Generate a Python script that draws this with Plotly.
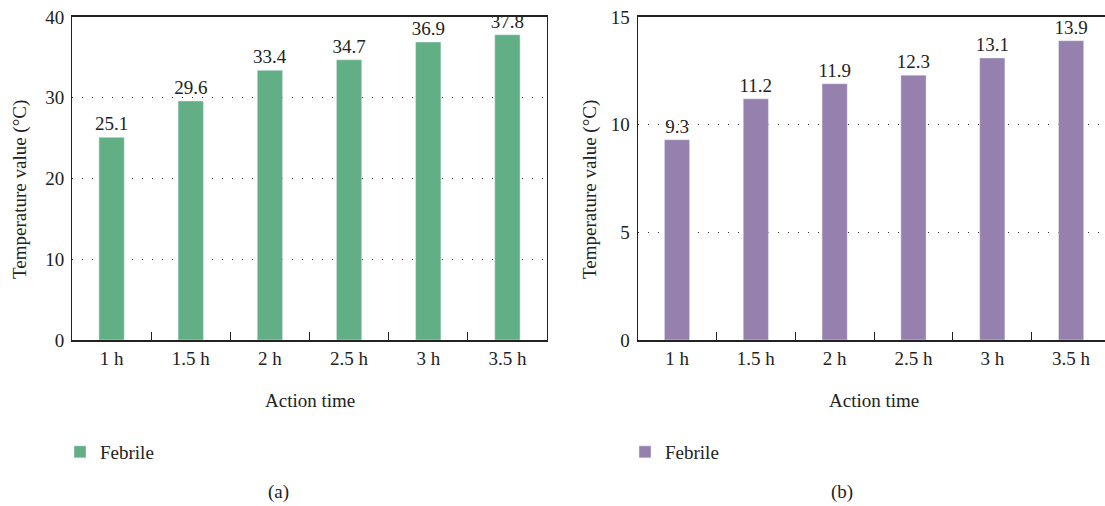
import plotly.graph_objects as go

categories = ["1 h", "1.5 h", "2 h", "2.5 h", "3 h", "3.5 h"]
values_a = [25.1, 29.6, 33.4, 34.7, 36.9, 37.8]
values_b = [9.3, 11.2, 11.9, 12.3, 13.1, 13.9]
series_name = "Febrile"
color_a = "#62AF85"
color_b = "#9680AE"

W, H = 1105, 506
FONT = "Liberation Serif"
FS = 19
TXT = "#222"

def px_x(p):
    return p / W

def px_y(p):
    return (H - p) / H

fig = go.Figure()
fig.add_trace(go.Bar(x=categories, y=values_a, name=series_name, marker_color=color_a,
                     width=0.32, text=[f"{v:.1f}" for v in values_a], textposition="outside",
                     constraintext="none", showlegend=True,
                     textfont=dict(size=FS, color=TXT, family=FONT), cliponaxis=False,
                     xaxis="x", yaxis="y", legend="legend"))
fig.add_trace(go.Bar(x=categories, y=values_b, name=series_name, marker_color=color_b,
                     width=0.32, text=[f"{v:.1f}" for v in values_b], textposition="outside",
                     constraintext="none", showlegend=True,
                     textfont=dict(size=FS, color=TXT, family=FONT), cliponaxis=False,
                     xaxis="x2", yaxis="y2", legend="legend2"))

ydom = [px_y(340), px_y(17)]
xcommon = dict(type="category", showline=True, linecolor="#222", linewidth=1.5,
               ticks="inside", ticklen=8, tickcolor="#222", tickson="boundaries",
               showgrid=False, tickfont=dict(size=FS, family=FONT, color=TXT),
               automargin=False, fixedrange=True)
ycommon = dict(showline=True, linecolor="#222", linewidth=1, ticks="",
               showgrid=True, gridcolor="#333", griddash="1px,9px", gridwidth=1,
               zeroline=False, tickfont=dict(size=FS, family=FONT, color=TXT),
               automargin=False, ticklabelstandoff=3, fixedrange=True)

def ann(text, x, y, angle=0):
    return dict(text=text, x=px_x(x), y=px_y(y), xref="paper", yref="paper",
                xanchor="center", yanchor="middle", textangle=angle,
                showarrow=False, font=dict(size=FS, family=FONT, color=TXT))

fig.update_layout(
    width=W, height=H,
    margin=dict(l=0, r=0, t=0, b=0),
    paper_bgcolor="white", plot_bgcolor="white",
    font=dict(family=FONT, size=FS, color=TXT),
    showlegend=True,
    xaxis=dict(domain=[px_x(72), px_x(547)], anchor="y", mirror=True,
               range=[-0.5, 5.5], **xcommon),
    yaxis=dict(domain=ydom, anchor="x", range=[0, 40], dtick=10, mirror=True, **ycommon),
    xaxis2=dict(domain=[px_x(637.6), 1.0], anchor="y2", mirror=True,
                range=[-0.5, 5.43], **xcommon),
    yaxis2=dict(domain=ydom, anchor="x2", range=[0, 15], dtick=5, mirror=False, **ycommon),
    legend=dict(visible=True, x=px_x(60), y=px_y(452), xanchor="left", yanchor="middle",
                font=dict(family="Liberation Serif", size=19, color=TXT),
                bgcolor="rgba(0,0,0,0)"),
    legend2=dict(visible=True, x=px_x(625), y=px_y(452), xanchor="left", yanchor="middle",
                 font=dict(family="Liberation Serif", size=19, color=TXT),
                 bgcolor="rgba(0,0,0,0)"),
    annotations=[
        ann("Temperature value (°C)", 20, 190, -90),
        ann("Temperature value (°C)", 590, 190, -90),
        ann("Action time", 310, 400),
        ann("Action time", 874, 400),
        ann("(a)", 278, 492),
        ann("(b)", 842, 492),
    ],
)

fig.write_html("out.html", config={"displayModeBar": False},
               post_script="document.body.style.margin='0';")
